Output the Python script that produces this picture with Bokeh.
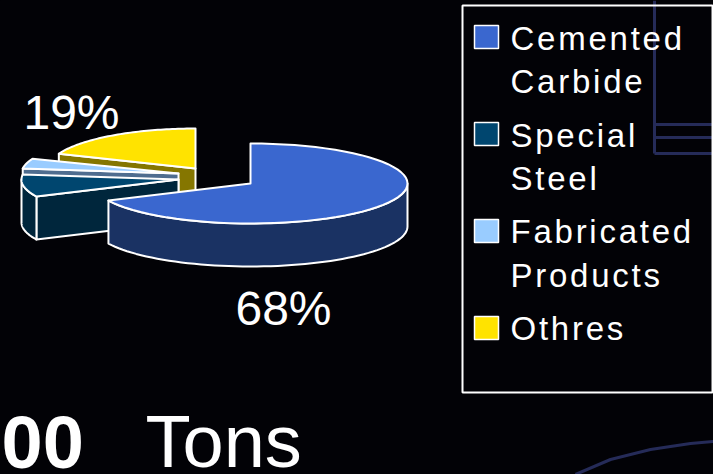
import math
from bokeh.embed import file_html
from bokeh.resources import INLINE
from bokeh.plotting import figure
from bokeh.models import Range1d, GlobalInlineStyleSheet
from bokeh.core.properties import value

categories = ["Cemented Carbide", "Special Steel", "Fabricated Products", "Othres"]
shares = [68, 9, 4, 19]
top_colors = ["#3A67CF", "#00466F", "#99CCFF", "#FFE300"]
side_colors = ["#1A3263", "#00263C", "#4F6D8F", "#857600"]
# apex of each (exploded) slice on the page
apex_x = [250, 178, 178, 195]
apex_y = [183, 179, 173, 168]
radius_x = [157, 157, 157, 147]
RY, DEPTH = 40, 43

legend_words = ["Cemented", "Carbide", "Special", "Steel", "Fabricated", "Products", "Othres"]
legend_y = [38, 81, 135, 178, 231, 275, 328]
swatch_y = [36.5, 133.5, 230.5, 327.5]
deco_x = [[654, 654], [654, 713], [654, 713], [654, 713], [575, 610, 650, 690, 713]]
deco_y = [[0, 153], [124, 124], [137, 137], [153, 153], [474, 459, 449, 443, 441]]

p = figure(width=713, height=474, output_backend="svg", toolbar_location=None,
           x_range=Range1d(0, 713), y_range=Range1d(474, 0), min_border=0,
           background_fill_color="#020206", border_fill_color="#020206", outline_line_color=None)
p.axis.visible = False
p.grid.visible = False
p.stylesheets = [GlobalInlineStyleSheet(css="html,body{margin:0;background:#020206;overflow:hidden}")]

p.multi_line(deco_x, deco_y, line_color="#252B58", line_width=3)


def pt(i, frac, dy=0):
    th = 2 * math.pi * frac
    return apex_x[i] + radius_x[i] * math.sin(th), apex_y[i] - RY * math.cos(th) + dy


def arc(i, f0, f1, dy=0, n=60):
    return [pt(i, f0 + (f1 - f0) * k / n, dy) for k in range(n + 1)]


def poly(pts, fill):
    p.patch([a for a, b in pts], [b for a, b in pts], fill_color=fill, line_color="white", line_width=2,
            line_join="round")


bounds = []
c = 0
for s in shares:
    bounds.append((c / 100, (c + s) / 100))
    c += s

for i in [3, 2, 1, 0]:
    f0, f1 = bounds[i]
    a = (apex_x[i], apex_y[i])
    if i != 0:
        e = pt(i, f0)
        poly([a, e, (e[0], e[1] + DEPTH), (a[0], a[1] + DEPTH)], side_colors[i])
    lo, hi = (0.25, f1) if i == 0 else (f0, min(f1, 0.75))
    if hi > lo:
        poly(arc(i, lo, hi) + arc(i, lo, hi, DEPTH)[::-1], side_colors[i])
    poly([a] + arc(i, f0, f1), top_colors[i])

# legend
p.quad(left=[462], right=[712], top=[5], bottom=[392], fill_color=None, line_color="white", line_width=2)
p.rect([486] * 4, swatch_y, width=24, height=23, fill_color=top_colors, line_color="white", line_width=1.5)
p.text([510] * len(legend_words), legend_y, text=["\u200a".join(w) for w in legend_words],
       text_font=value("Liberation Sans"), text_font_size="33px", text_color="white",
       text_align="left", text_baseline="middle")

# labels
p.text([71, 283], [112, 308], text=["19%", "68%"], text_font=value("Liberation Sans"), text_font_size="48px",
       text_color="white", text_align="center", text_baseline="middle")
p.text([1], [441], text=["00"], text_font=value("Liberation Sans"), text_font_size="74px", text_font_style="bold",
       text_color="white", text_align="left", text_baseline="middle")
p.text([145], [441], text=["Tons"], text_font=value("Liberation Sans"), text_font_size="74px",
       text_color="white", text_align="left", text_baseline="middle")

open("out.html", "w").write(file_html(p, INLINE))
